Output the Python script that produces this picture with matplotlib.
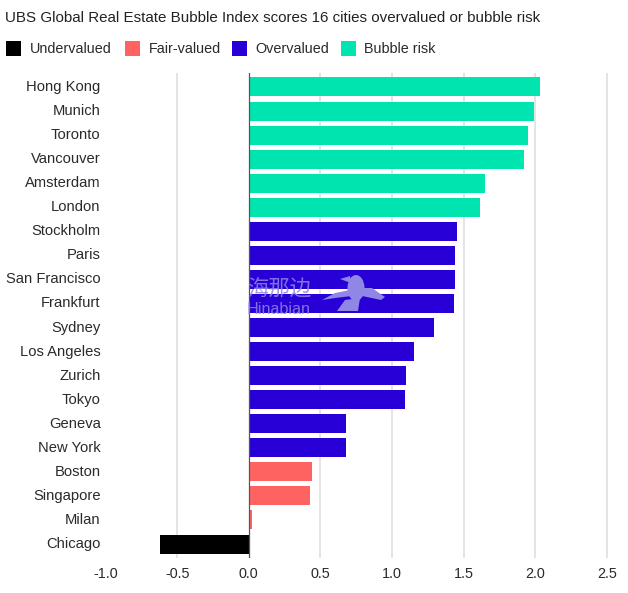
import matplotlib
matplotlib.use('Agg')
import matplotlib.pyplot as plt
from matplotlib.patches import Ellipse, Polygon, Rectangle

plt.rcParams['font.family'] = ['Liberation Sans', 'Noto Sans CJK SC', 'DejaVu Sans']

# scores, top to bottom
cities = ['Hong Kong', 'Munich', 'Toronto', 'Vancouver', 'Amsterdam', 'London', 'Stockholm', 'Paris',
          'San Francisco', 'Frankfurt', 'Sydney', 'Los Angeles', 'Zurich', 'Tokyo', 'Geneva', 'New York',
          'Boston', 'Singapore', 'Milan', 'Chicago']
scores = [2.03, 1.99, 1.95, 1.92, 1.65, 1.61, 1.45, 1.44, 1.44, 1.43, 1.29, 1.15, 1.10, 1.09, 0.68, 0.68,
          0.44, 0.43, 0.02, -0.62]
groups = ['Bubble risk'] * 6 + ['Overvalued'] * 10 + ['Fair-valued'] * 3 + ['Undervalued']
legend_names = ['Undervalued', 'Fair-valued', 'Overvalued', 'Bubble risk']
legend_x = [6, 125, 232, 341]
colours = {'Undervalued': '#000000', 'Fair-valued': '#ff6361', 'Overvalued': '#2800d7', 'Bubble risk': '#00e5b0'}
xticks = [-1.0, -0.5, 0.0, 0.5, 1.0, 1.5, 2.0, 2.5]

W, H = 628, 593
fig = plt.figure(figsize=(W / 100, H / 100), dpi=100)
# axes in pixels: x -1.0 at 105.5, 2.5 at 607
ax = fig.add_axes([105.5 / W, 1 - 558 / H, (617 - 105.5) / W, (558 - 73) / H])
ax.set_xlim(-1.0, -1.0 + (617 - 105.5) / 143.3)
ax.set_ylim(len(cities) - 1 + 0.58, -0.58)

ypos = range(len(cities))
ax.barh(ypos, scores, height=0.79, color=[colours[g] for g in groups], zorder=2)
ax.axvline(0, color='#555555', lw=0.9, zorder=3)
for t in xticks:
    if t not in (-1.0, 0.0):
        ax.axvline(t, color='#e2e2e2', lw=1.3, zorder=1)

for s in ax.spines.values():
    s.set_visible(False)
ax.set_yticks(list(ypos))
ax.set_yticklabels(cities, fontsize=10.6, color='#2a2a2a')
for lab in ax.get_yticklabels():
    lab.set_y(lab.get_position()[1])
    lab.set_verticalalignment('center')
ax.set_xticks(xticks)
ax.set_xticklabels(['%.1f' % t for t in xticks], fontsize=10.4, color='#2a2a2a')
ax.tick_params(length=0)
ax.tick_params(axis='y', pad=3.5)
ax.tick_params(axis='x', pad=6.3)

fig.text(5 / W, 1 - 18 / H, 'UBS Global Real Estate Bubble Index scores 16 cities overvalued or bubble risk',
         fontsize=10.9, color='#222222', va='center')

# legend by hand so the swatches sit where they do in the original
for name, x in zip(legend_names, legend_x):
    fig.add_artist(Rectangle((x / W, 1 - 56 / H), 15 / W, 15 / H, transform=fig.transFigure,
                             color=colours[name], lw=0))
    fig.text((x + 23.5) / W, 1 - 49 / H, name, fontsize=10.4, color='#2a2a2a', va='center')

# watermark
wm = '#8f86e6'
fig.text(247 / W, 1 - 289 / H, '海那边', fontsize=15.4, color=wm, alpha=0.85, va='center', zorder=5)
fig.text(247 / W, 1 - 309 / H, 'Hinabian', fontsize=11.6, color=wm, alpha=0.85, va='center', zorder=5)
bird = dict(transform=fig.transFigure, color=wm, lw=0, zorder=5)
fig.add_artist(Ellipse((356 / W, 1 - 288 / H), 17 / W, 26 / H, **bird))
fig.add_artist(Polygon([(340 / W, 1 - 279 / H), (350 / W, 1 - 276 / H), (351 / W, 1 - 283 / H)], closed=True, **bird))
fig.add_artist(Polygon([(322 / W, 1 - 300 / H), (335 / W, 1 - 293 / H), (350 / W, 1 - 290 / H), (352 / W, 1 - 296 / H),
                        (335 / W, 1 - 298 / H)], closed=True, **bird))
fig.add_artist(Polygon([(362 / W, 1 - 288 / H), (372 / W, 1 - 288 / H), (385 / W, 1 - 297 / H), (381 / W, 1 - 300 / H),
                        (362 / W, 1 - 296 / H)], closed=True, **bird))
fig.add_artist(Polygon([(337 / W, 1 - 311 / H), (345 / W, 1 - 300 / H), (360 / W, 1 - 298 / H), (358 / W, 1 - 311 / H)],
                       closed=True, **bird))

fig.savefig('out.png', dpi=100)
